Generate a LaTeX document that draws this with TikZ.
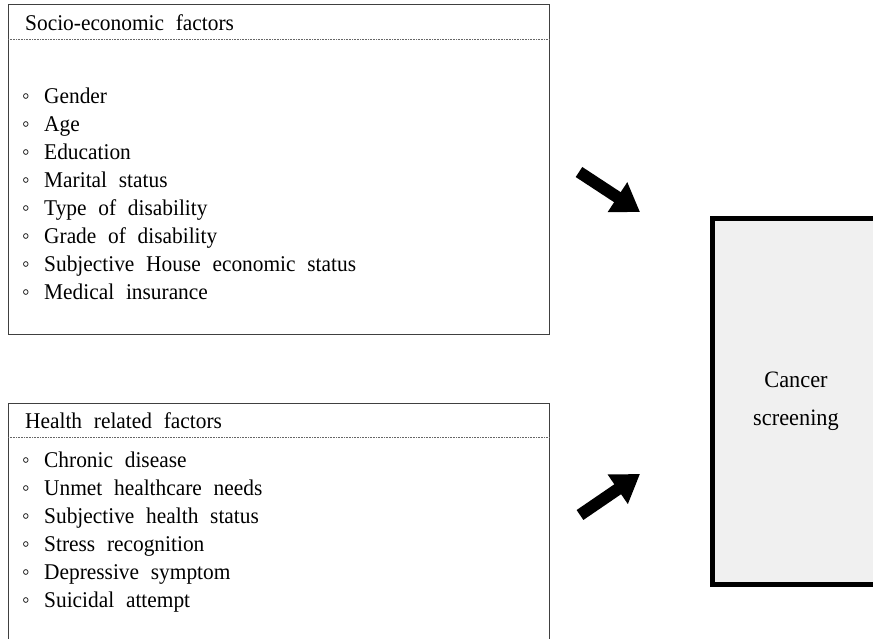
\documentclass[tikz,border=0pt]{standalone}
\usepackage{fontspec}
\setmainfont{Liberation Serif}[WordSpace=2.2, FakeStretch=0.95]
\usetikzlibrary{arrows.meta}
\tikzset{
  factorbox/.style={draw=black!75, line width=1pt, anchor=north west, inner sep=0pt},
  sepline/.style={draw=black!60, line width=0.7pt, dash pattern=on 0.7pt off 0.9pt},
  itemtext/.style={anchor=base west, inner sep=0pt, font=\fontsize{22.5}{26}\selectfont},
  bullettext/.style={anchor=base west, inner sep=0pt, font=\fontsize{22.5}{26}\selectfont},
  outcome/.style={draw=black, line width=5pt, fill=black!6, anchor=north west, inner sep=0pt,
    minimum width=176pt, minimum height=366pt},
  outtext/.style={align=center, inner sep=0pt, font=\fontsize{23.5}{38}\selectfont},
  blockarrow/.style={line width=12pt, -{Triangle[length=27pt,width=34pt]}}
}
\begin{document}
\begin{tikzpicture}[x=1pt,y=-1pt]
\useasboundingbox (0,0) rectangle (873,638);
% socio-economic box
\node[factorbox, minimum width=541pt, minimum height=330pt] (se) at (8,4) {};
\draw[sepline] (8,39) coordinate (sel) -- (549,39) coordinate (ser);
\node[itemtext] (setitle) at (25,30) {Socio-economic factors};
\foreach \t [count=\i from 0] in {Gender,Age,Education,Marital status,Type of disability,Grade of disability,Subjective House economic status,Medical insurance}{
  \node[bullettext] (seb\i) at (22,{103+28.1*\i}) {◦};
  \node[itemtext] (se\i) at (44,{103+28.1*\i}) {\t};
}
% health box
\node[factorbox, minimum width=541pt, minimum height=260pt] (hr) at (8,403) {};
\draw[sepline] (8,437) coordinate (hrl) -- (549,437) coordinate (hrr);
\node[itemtext] (hrtitle) at (25,428.5) {Health related factors};
\foreach \t [count=\i from 0] in {Chronic disease,Unmet healthcare needs,Subjective health status,Stress recognition,Depressive symptom,Suicidal attempt}{
  \node[bullettext] (hrb\i) at (22,{467.5+28*\i}) {◦};
  \node[itemtext] (hr\i) at (44,{467.5+28*\i}) {\t};
}
% outcome box
\node[outcome] (cs) at (709.5,216) {};
\node[outtext] (cstext) at (796,401) {Cancer\\screening};
% arrows
\coordinate (a1s) at (579,172);
\coordinate (a1e) at (640,212);
\coordinate (a2s) at (580,515);
\coordinate (a2e) at (640,474);
\draw[blockarrow] (a1s) -- (a1e);
\draw[blockarrow] (a2s) -- (a2e);
\end{tikzpicture}
\end{document}
